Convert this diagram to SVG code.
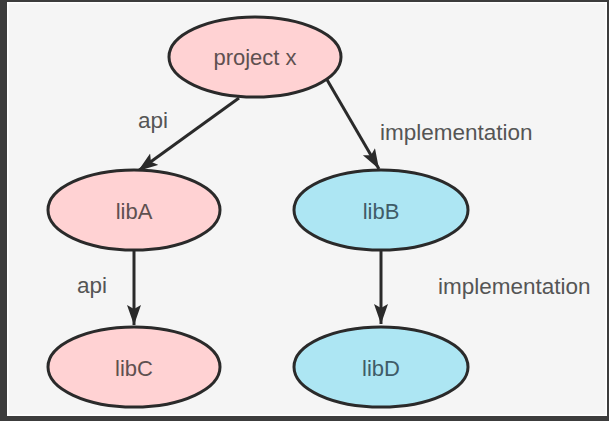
<svg xmlns="http://www.w3.org/2000/svg" width="609" height="421" viewBox="0 0 609 421">
<style>
.node ellipse{stroke:#2a2a2a;stroke-width:3}
.pink{fill:#ffd2d3}
.blue{fill:#ade6f3}
.lbl{font-family:"Liberation Sans",Arial,sans-serif;font-size:22px;text-anchor:middle}
.tp{fill:#5e5050}
.tb{fill:#3f5c68}
.edge{stroke:#2a2a2a;stroke-width:3;fill:none;marker-end:url(#arr)}
.elbl{font-family:"Liberation Sans",Arial,sans-serif;font-size:22.5px;fill:#555}
</style>
<defs>
<marker id="arr" markerUnits="userSpaceOnUse" markerWidth="22" markerHeight="16" refX="20" refY="7" orient="auto">
<path d="M0,0 L20,7 L0,14 L4,7 z" fill="#2a2a2a"/>
</marker>
</defs>
<rect x="0" y="0" width="609" height="421" fill="#3c3c3c"/>
<rect x="7" y="2" width="600" height="414" fill="#ffffff"/>
<rect x="8.5" y="3.5" width="597" height="411" fill="#f5f5f5"/>
<g id="connectors">
<line class="edge" x1="239" y1="98" x2="138" y2="171"/>
<line class="edge" x1="326" y1="78" x2="379" y2="169"/>
<line class="edge" x1="134" y1="251" x2="134" y2="325"/>
<line class="edge" x1="381" y1="251" x2="381" y2="324"/>
<text class="elbl" x="138" y="128">api</text>
<text class="elbl" x="380" y="140">implementation</text>
<text class="elbl" x="77" y="293">api</text>
<text class="elbl" x="438" y="294">implementation</text>
</g>
<g id="projectx" class="node">
<ellipse class="pink" cx="255" cy="57" rx="86" ry="40"/>
<text class="lbl tp" x="255" y="65">project x</text>
</g>
<g id="libA" class="node">
<ellipse class="pink" cx="134" cy="210" rx="86" ry="40"/>
<text class="lbl tp" x="134" y="219">libA</text>
</g>
<g id="libB" class="node">
<ellipse class="blue" cx="381" cy="210" rx="87" ry="40"/>
<text class="lbl tb" x="381" y="219">libB</text>
</g>
<g id="libC" class="node">
<ellipse class="pink" cx="134" cy="367" rx="86" ry="40"/>
<text class="lbl tp" x="134" y="376">libC</text>
</g>
<g id="libD" class="node">
<ellipse class="blue" cx="381" cy="367" rx="87" ry="40"/>
<text class="lbl tb" x="381" y="376">libD</text>
</g>
</svg>
